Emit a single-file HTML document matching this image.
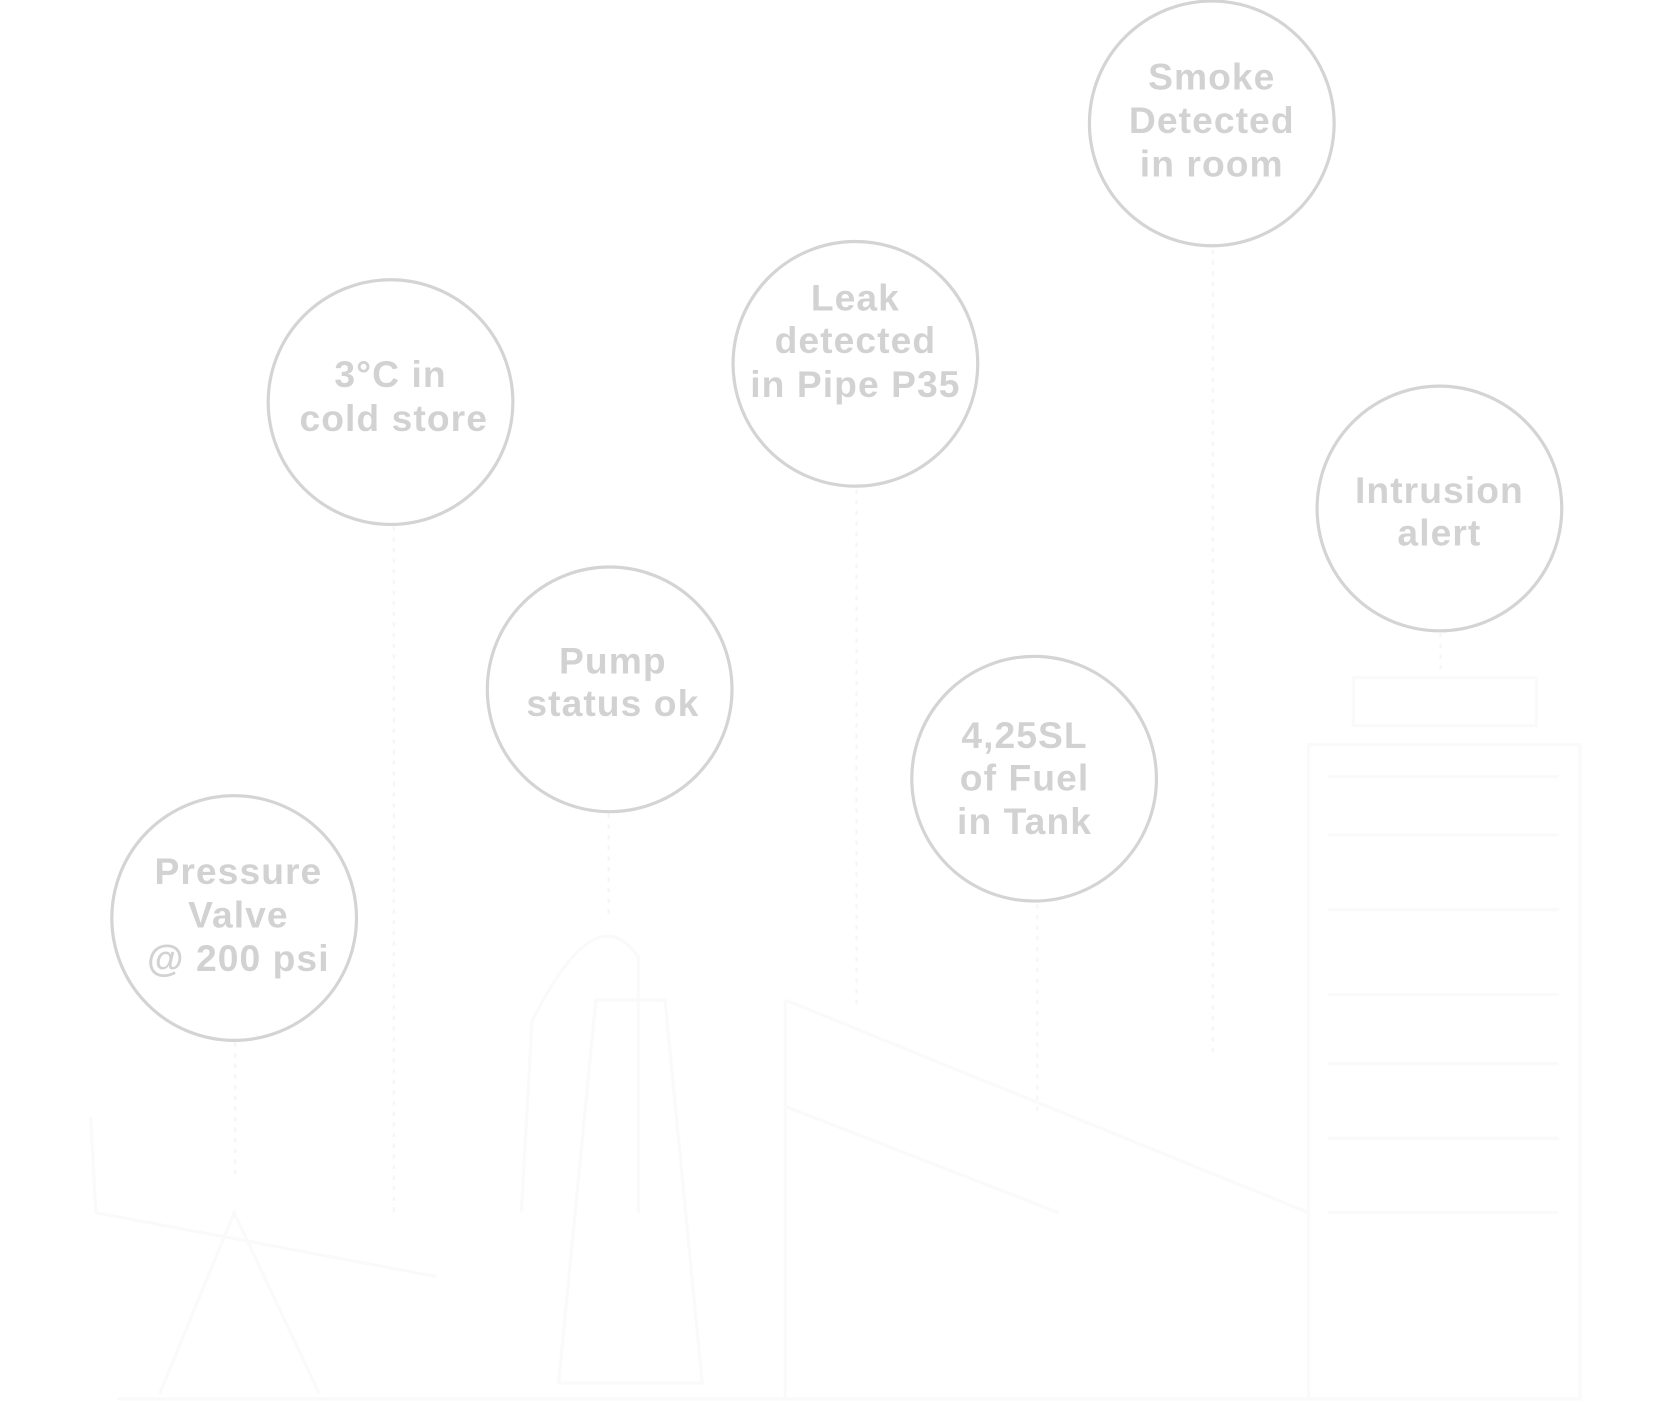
<!DOCTYPE html>
<html><head><meta charset="utf-8"><style>
html,body{margin:0;padding:0;background:#fff;}
svg{display:block;}
text{font-family:"Liberation Sans",sans-serif;font-weight:bold;font-size:35px;fill:#d2d2d2;text-anchor:middle;letter-spacing:1px;}
</style></head><body>
<svg width="1664" height="1401" viewBox="0 0 1564 1317" xmlns="http://www.w3.org/2000/svg">
<rect width="1564" height="1317" fill="#fff"/>
<g stroke="#f5f5f5" stroke-width="2" fill="none" stroke-dasharray="4 6">
<line x1="221" y1="980" x2="221" y2="1110"/>
<line x1="370" y1="495" x2="370" y2="1140"/>
<line x1="572" y1="765" x2="572" y2="860"/>
<line x1="805" y1="460" x2="805" y2="950"/>
<line x1="975" y1="850" x2="975" y2="1050"/>
<line x1="1140" y1="235" x2="1140" y2="990"/>
<line x1="1354" y1="595" x2="1354" y2="635"/>
</g>
<g stroke="#fafafa" stroke-width="3" fill="none">
<rect x="1272" y="637" width="172" height="45"/>
<rect x="1230" y="700" width="255" height="615"/>
<line x1="1248" y1="730" x2="1465" y2="730"/>
<line x1="1248" y1="785" x2="1465" y2="785"/>
<line x1="1248" y1="855" x2="1465" y2="855"/>
<line x1="1248" y1="935" x2="1465" y2="935"/>
<line x1="1248" y1="1000" x2="1465" y2="1000"/>
<line x1="1248" y1="1070" x2="1465" y2="1070"/>
<line x1="1248" y1="1140" x2="1465" y2="1140"/>
<line x1="738" y1="940" x2="1230" y2="1140"/>
<line x1="738" y1="1040" x2="995" y2="1140"/>
<line x1="738" y1="940" x2="738" y2="1315"/>
<line x1="110" y1="1315" x2="1485" y2="1315"/>
<path d="M490 1140 L500 960 Q560 840 600 900 L600 1140"/>
<path d="M525 1300 L560 940 L625 940 L660 1300 Z"/>
<path d="M85 1050 L90 1140 L410 1200"/>
<path d="M150 1310 L220 1140 L300 1310"/>
</g>
<g stroke="#d4d4d4" stroke-width="3" fill="#fff">
<circle cx="1139" cy="116" r="115"/>
<circle cx="367" cy="378" r="115"/>
<circle cx="804" cy="342" r="115"/>
<circle cx="1353" cy="478" r="115"/>
<circle cx="573" cy="648" r="115"/>
<circle cx="972" cy="732" r="115"/>
<circle cx="220" cy="863" r="115"/>
</g>
<text x="1139" y="84">Smoke</text>
<text x="1139" y="125">Detected</text>
<text x="1139" y="166">in room</text>
<text x="367" y="364">3°C in</text>
<text x="370" y="405">cold store</text>
<text x="804" y="292">Leak</text>
<text x="804" y="332">detected</text>
<text x="804" y="373">in Pipe P35</text>
<text x="1353" y="473">Intrusion</text>
<text x="1353" y="513">alert</text>
<text x="576" y="633">Pump</text>
<text x="576" y="673">status ok</text>
<text x="963" y="703">4,25SL</text>
<text x="963" y="743">of Fuel</text>
<text x="963" y="784">in Tank</text>
<text x="224" y="831">Pressure</text>
<text x="224" y="872">Valve</text>
<text x="224" y="913">@ 200 psi</text>
</svg>
</body></html>
